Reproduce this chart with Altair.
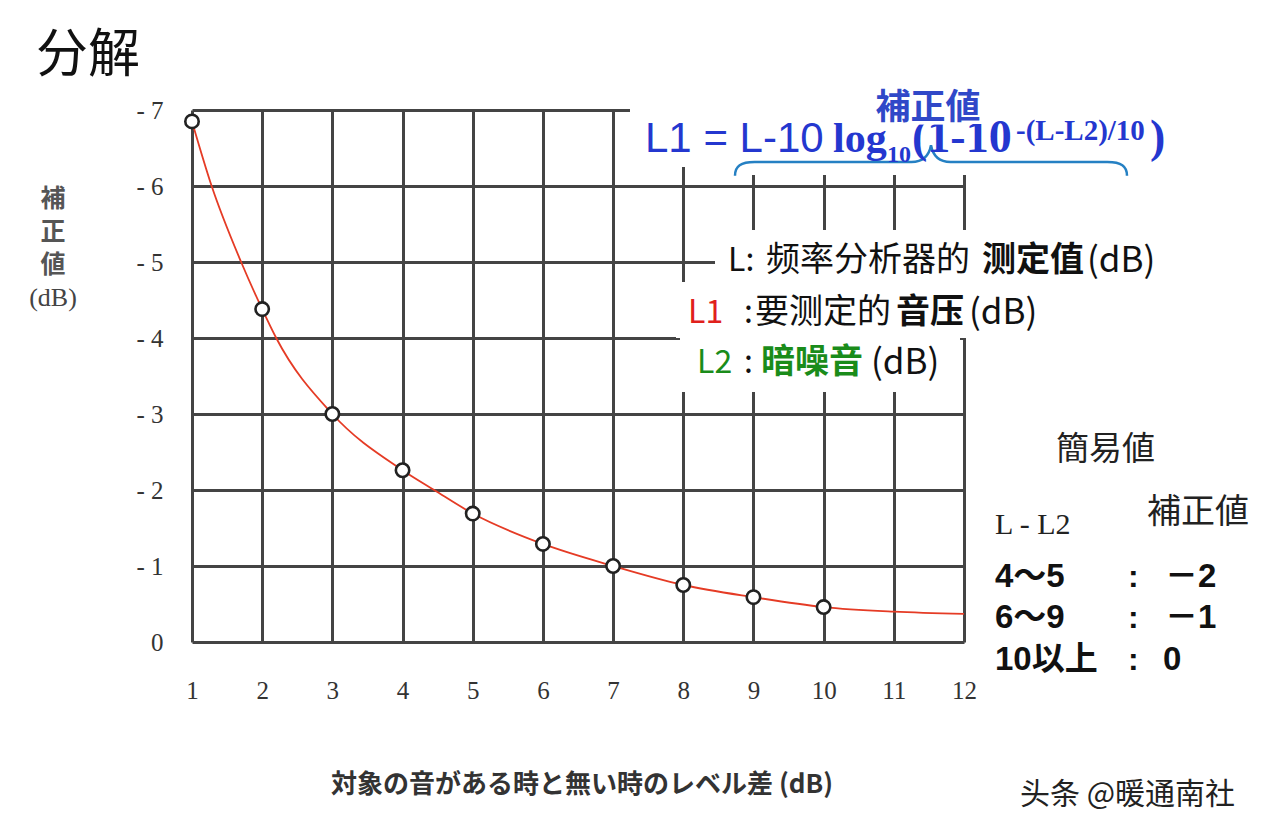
import altair as alt
import pandas as pd

# ---- data ----
point_x = [1, 2, 3, 4, 5, 6, 7, 8, 9, 10]
point_y = [-6.85, -4.38, -3.0, -2.26, -1.69, -1.29, -1.0, -0.75, -0.59, -0.46]

curve_x = [1, 1.28, 1.7, 2, 2.2, 3, 4, 4.45, 5, 6, 7, 8, 9, 10, 11, 12]
curve_y = [-6.85, -6.0, -5.0, -4.38, -4.0, -3.0, -2.26, -2.0, -1.69, -1.29,
           -1.0, -0.75, -0.59, -0.46, -0.40, -0.37]

x_ticks = list(range(1, 13))
y_ticks = [-7, -6, -5, -4, -3, -2, -1, 0]

# ---- layout ----
PX, PY = 192, 110          # plot origin on the page
W, H = 772, 532            # plot area
CANVAS_W, CANVAS_H = 1276, 834

SC = "Noto Sans CJK SC"
JP = "Noto Sans CJK JP"
SERIF = "Liberation Serif"
SANS = "Liberation Sans, Noto Sans CJK JP"
BLUE = "#2437cf"

dummy = pd.DataFrame({"k": [0]})
pts = pd.DataFrame({"x": point_x, "y": point_y})
crv = pd.DataFrame({"x": curve_x, "y": curve_y})

xscale = alt.Scale(domain=[1, 12], nice=False, zero=False)
yscale = alt.Scale(domain=[-7, 0], nice=False, zero=False, reverse=True)

xaxis = alt.Axis(values=x_ticks, format="d", grid=True, gridColor="#444", gridWidth=3,
                 gridOpacity=1, domain=False, ticks=False, tickSize=0, labelFont=SERIF,
                 labelFontSize=25, labelColor="#333", labelPadding=36, labelFlush=False,
                 labelOverlap=False, title=None)
yaxis = alt.Axis(values=y_ticks, grid=True, gridColor="#444", gridWidth=3, gridOpacity=1,
                 domain=False, ticks=False, tickSize=0, labelFont=SERIF, labelFontSize=25,
                 labelColor="#333", labelPadding=29, labelFlush=False, labelOverlap=False,
                 labelExpr="datum.value == 0 ? '0' : '- ' + abs(datum.value)", title=None)

curve = alt.Chart(crv).mark_line(color="#e53b25", strokeWidth=1.8, interpolate="monotone").encode(
    x=alt.X("x:Q", scale=xscale, axis=xaxis),
    y=alt.Y("y:Q", scale=yscale, axis=yaxis),
)
points = alt.Chart(pts).mark_point(shape="circle", filled=True, fill="white", stroke="#222",
                                   strokeWidth=2.6, size=180, opacity=1).encode(
    x=alt.X("x:Q", scale=xscale),
    y=alt.Y("y:Q", scale=yscale),
)


def box(x1, x2, y1, y2):
    return alt.Chart(dummy).mark_rect(color="white").encode(
        x=alt.value(x1 - PX), x2=alt.value(x2 - PX),
        y=alt.value(y1 - PY), y2=alt.value(y2 - PY))


def txt(s, X, Y, size, color="#111", font=SC, weight="normal", align="left",
        baseline="middle", **kw):
    return alt.Chart(dummy).mark_text(text=s, fontSize=size, font=font, fontWeight=weight,
                                      color=color, align=align, baseline=baseline, **kw).encode(
        x=alt.value(X - PX), y=alt.value(Y - PY))


boxes = [
    box(630, 722, 60, 167),
    box(722, 1180, 60, 175),
    box(715, 1180, 230, 286),
    box(676, 1070, 282, 338),
    box(680, 960, 336, 392),
]

brace_path = ("M -1 0.07 C -1 0.02 -0.97 0 -0.9 0 L -0.1 0 C -0.04 0 -0.01 -0.03 0 -0.085 "
              "C 0.01 -0.03 0.04 0 0.1 0 L 0.9 0 C 0.97 0 1 0.02 1 0.07")
brace = alt.Chart(dummy).mark_point(shape=brace_path, size=392 * 392, filled=False,
                                    stroke="#2580c3", strokeWidth=2.5, opacity=1).encode(
    x=alt.value(931 - PX), y=alt.value(162 - PY))

texts = [
    # title
    txt("分解", 36, 56, 52, color="#111"),
    # y-axis title (stacked)
    txt("補", 53, 199, 25, color="#555", font=JP, weight="bold", align="center"),
    txt("正", 53, 232, 25, color="#555", font=JP, weight="bold", align="center"),
    txt("値", 53, 265, 25, color="#555", font=JP, weight="bold", align="center"),
    txt("(dB)", 53, 298, 26, color="#444", font=SERIF, align="center"),
    # x-axis title
    txt("対象の音がある時と無い時のレベル差 (dB)", 582, 785, 26, color="#333", font=JP,
        weight="bold", align="center"),
    # formula
    txt("L1 = L-10", 645, 152, 42, color=BLUE, font="Liberation Sans", baseline="alphabetic"),
    txt("log", 833, 152, 42, color=BLUE, font=SERIF, weight="bold", baseline="alphabetic"),
    txt("10", 887, 162, 24, color=BLUE, font=SERIF, weight="bold", baseline="alphabetic"),
    txt("(1-10", 912, 152, 46, color=BLUE, font=SERIF, weight="bold", baseline="alphabetic"),
    txt("-(L-L2)/10", 1016, 140, 29, color=BLUE, font=SERIF, weight="bold", baseline="alphabetic"),
    txt(")", 1150, 152, 46, color=BLUE, font=SERIF, weight="bold", baseline="alphabetic"),
    txt("補正値", 928, 108, 35, color="white", font=JP, weight="bold", align="center",
        stroke="white", strokeWidth=7),
    txt("補正値", 928, 108, 35, color="#3048c8", font=JP, weight="bold", align="center"),
    # legend lines
    txt("L:", 728, 261, 32, color="#111"),
    txt("频率分析器的", 766, 261, 34, color="#111"),
    txt("测定值", 982, 261, 34, color="#111", weight="bold"),
    txt("(dB)", 1087, 261, 35, color="#111"),
    txt("L1", 688, 313, 32, color="#e0201c"),
    txt(":", 744, 313, 32, color="#111"),
    txt("要测定的", 755, 313, 34, color="#111"),
    txt("音压", 896, 313, 34, color="#111", weight="bold"),
    txt("(dB)", 969, 313, 35, color="#111"),
    txt("L2", 697, 363, 32, color="#1a8c1a"),
    txt(":", 744, 363, 32, color="#111"),
    txt("暗噪音", 761, 363, 34, color="#1a8c1a", weight="bold"),
    txt("(dB)", 871, 363, 35, color="#111"),
    # simple values block
    txt("簡易値", 1056, 450, 33, color="#222", font=JP),
    txt("L - L2", 995, 525, 30, color="#222", font=SERIF),
    txt("補正値", 1147, 513, 34, color="#222", font=JP),
    txt("4～5", 995, 577, 33, color="#111", font=SANS, weight="bold"),
    txt(":", 1128, 577, 32, color="#111", font=SANS, weight="bold"),
    txt("－2", 1165, 577, 33, color="#111", font=SANS, weight="bold"),
    txt("6～9", 995, 618, 33, color="#111", font=SANS, weight="bold"),
    txt(":", 1128, 618, 32, color="#111", font=SANS, weight="bold"),
    txt("－1", 1165, 618, 33, color="#111", font=SANS, weight="bold"),
    txt("10以上", 995, 660, 33, color="#111", font=SANS, weight="bold"),
    txt(":", 1128, 660, 32, color="#111", font=SANS, weight="bold"),
    txt("0", 1163, 660, 33, color="#111", font=SANS, weight="bold"),
    # watermark
    txt("头条 @暖通南社", 1020, 795, 30, color="#222"),
]

chart = alt.layer(curve, *boxes, points, brace, *texts).properties(
    width=W, height=H,
    autosize=alt.AutoSizeParams(type="none"),
    padding={"left": PX, "top": PY, "right": CANVAS_W - PX - W, "bottom": CANVAS_H - PY - H},
    background="white",
).configure_view(strokeWidth=0)

chart.save("out.html", embed_options={"renderer": "svg", "actions": False})
